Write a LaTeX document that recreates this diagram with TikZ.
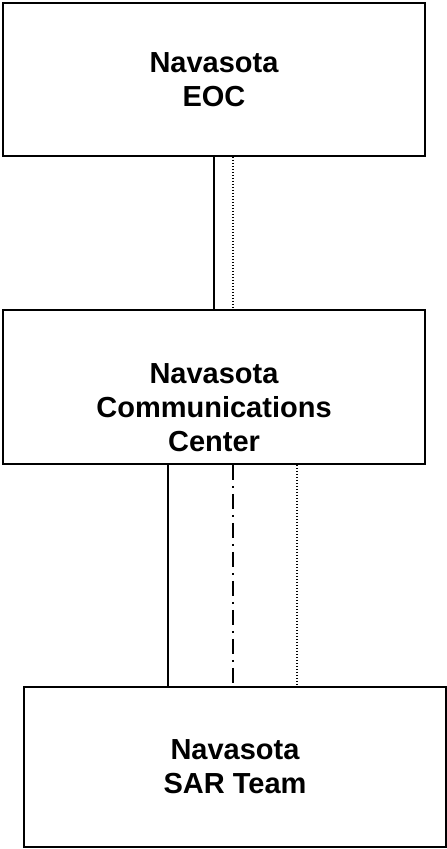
\documentclass[tikz,border=0pt]{standalone}
\usepackage{fontspec}
\setmainfont{Liberation Sans}
\usetikzlibrary{positioning}
\tikzset{
  unit/.style={draw,line width=1.6pt,minimum width=422pt,inner sep=0pt},
  unittext/.style={align=center,font=\fontsize{29}{34}\selectfont\bfseries},
  solidlink/.style={line width=1.6pt},
  dotlink/.style={line width=1.4pt,dash pattern=on 1.5pt off 1.5pt},
  dashdotlink/.style={line width=1.6pt,dash pattern=on 15pt off 6pt on 2pt off 6pt}
}
\begin{document}
\begin{tikzpicture}[x=1pt,y=1pt]
\useasboundingbox (0,0) rectangle (447,849);
\node[unit,minimum height=153pt] (eoc) at (214,769.5) {};
\node[unit,minimum height=154pt] (comm) at (214,462) {};
\node[unit,minimum height=160pt] (sar) at (235,82) {};
\node[unittext] (eoctext) at (eoc.center) {Navasota\\EOC};
\node[unittext] (commtext) at ([yshift=-21pt]comm.center) {Navasota\\Communications\\Center};
\node[unittext] (sartext) at (sar.center) {Navasota\\SAR Team};
\draw[solidlink] (eoc.south) -- (comm.north);
\draw[dotlink] ([xshift=19pt]eoc.south) -- ([xshift=19pt]comm.north);
\draw[solidlink] ([xshift=-46pt]comm.south) -- ([xshift=-46pt]comm.south |- sar.north);
\draw[dashdotlink] ([xshift=19pt]comm.south) -- ([xshift=19pt]comm.south |- sar.north);
\draw[dotlink] ([xshift=83pt]comm.south) -- ([xshift=83pt]comm.south |- sar.north);
\end{tikzpicture}
\end{document}
